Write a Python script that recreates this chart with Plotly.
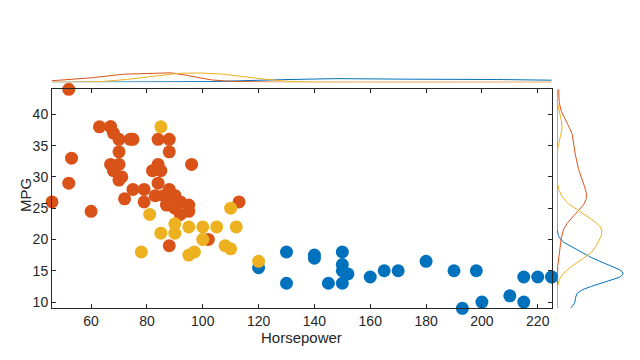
import numpy as np
import plotly.graph_objects as go

# Group 1 (blue)
hp_g1 = [130, 165, 150, 150, 140, 198, 220, 215, 225, 190, 170, 160, 150, 225,
         120, 130, 140, 145, 150, 152, 180, 193, 200, 210, 215]
mpg_g1 = [18, 15, 18, 16, 17, 15, 14, 14, 14, 15, 15, 14, 15, 14,
          15.5, 13, 17.5, 13, 13, 14.5, 16.5, 9, 10, 11, 10]

# Group 2 (orange)
hp_g2 = [52, 63, 67, 67, 68, 70, 74, 75, 70, 53, 67, 68, 70, 52, 70, 71, 75, 79,
         72, 46, 60, 84, 88, 88, 96, 84, 82, 85, 84, 79, 83, 88, 92, 87, 90, 92,
         95, 95, 86, 88, 90, 90, 113, 102, 88]
mpg_g2 = [44, 38, 38, 38, 37, 36, 36, 36, 34, 33, 32, 31, 32, 29, 29.5, 30, 28, 28,
          26.5, 26, 24.5, 36, 36, 34, 32, 32, 31, 31, 29, 26, 27, 28, 26, 25.5, 25, 24,
          25.5, 24.5, 27, 27, 27, 27, 26, 20, 19]

# Group 3 (yellow)
hp_g3 = [85, 81, 90, 90, 85, 95, 100, 105, 112, 110, 100, 78, 95, 97, 108, 110, 120]
mpg_g3 = [38, 24, 22.5, 21, 21, 22, 22, 22, 22, 25, 20, 18, 17.5, 18, 19, 18.5, 16.5]

x_ticks = [60, 80, 100, 120, 140, 160, 180, 200, 220]
y_ticks = [10, 15, 20, 25, 30, 35, 40]
x_title = "Horsepower"
y_title = "MPG"

colors = ["#0072BD", "#D95319", "#EDB120"]
groups = [(hp_g1, mpg_g1), (hp_g2, mpg_g2), (hp_g3, mpg_g3)]

all_hp = hp_g1 + hp_g2 + hp_g3
all_mpg = mpg_g1 + mpg_g2 + mpg_g3
xr = [min(all_hp), max(all_hp)]
yr = [min(all_mpg), max(all_mpg)]


def bandwidth(v):
    v = np.asarray(v, float)
    sig = np.median(np.abs(v - np.median(v))) / 0.6745
    return sig * (4.0 / (3.0 * len(v))) ** 0.2


def kde(v, grid):
    v = np.asarray(v, float)
    h = bandwidth(v)
    z = (grid[:, None] - v[None, :]) / h
    return np.exp(-0.5 * z ** 2).sum(axis=1) / (len(v) * h * np.sqrt(2 * np.pi))


W, H = 640, 360
xdom = [52 / W, 551.7 / W]
ydom = [1 - 308.3 / H, 1 - 89.3 / H]
rdom = [557 / W, 630 / W]
tdom = [1 - 82.3 / H, 1 - 9.3 / H]

gx = np.linspace(xr[0], xr[1], 200)
gy = np.linspace(yr[0], yr[1], 200)

fig = go.Figure()
for (hp, mpg), c in zip(groups, colors):
    fig.add_trace(go.Scatter(x=hp, y=mpg, mode="markers", cliponaxis=False,
                             marker=dict(color=c, size=13, line=dict(width=0)),
                             xaxis="x", yaxis="y", showlegend=False))

dens_y = [kde(mpg, gy) for hp, mpg in groups]
dens_x = [kde(hp, gx) for hp, mpg in groups]
R = max(d.max() for d in dens_y) * 73 / 66

for (hp, mpg), c, dx, dy in zip(groups, colors, dens_x, dens_y):
    fig.add_trace(go.Scatter(x=gx, y=dx, mode="lines", line=dict(color=c, width=1),
                             xaxis="x2", yaxis="y2", showlegend=False, hoverinfo="skip"))
    fig.add_trace(go.Scatter(x=dy, y=gy, mode="lines", line=dict(color=c, width=1),
                             xaxis="x3", yaxis="y3", showlegend=False, hoverinfo="skip"))

font = dict(family="Liberation Sans, Arial, sans-serif", size=14, color="#262626")
axis_common = dict(showline=True, linecolor="#262626", linewidth=1, mirror="ticks",
                   ticks="inside", ticklen=4, tickcolor="#262626", showgrid=False,
                   zeroline=False, tickfont=font, automargin=False)

title_font = dict(family="Liberation Sans, Arial, sans-serif", size=15, color="#262626")

fig.update_layout(
    width=W, height=H, margin=dict(l=0, r=0, t=0, b=0, autoexpand=False),
    paper_bgcolor="white", plot_bgcolor="white", font=font, showlegend=False,
    xaxis=dict(domain=xdom, range=xr, tickvals=x_ticks, anchor="y", **axis_common),
    yaxis=dict(domain=ydom, range=yr, tickvals=y_ticks, anchor="x", **axis_common),
    xaxis2=dict(domain=xdom, range=xr, anchor="y2", visible=False, automargin=False),
    yaxis2=dict(domain=tdom, range=[0, R], anchor="x2", visible=False, automargin=False),
    xaxis3=dict(domain=rdom, range=[0, R], anchor="y3", visible=False, automargin=False),
    yaxis3=dict(domain=ydom, range=yr, anchor="x3", visible=False, automargin=False),
    annotations=[
        dict(text=x_title, xref="paper", yref="paper", x=(xdom[0] + xdom[1]) / 2,
             y=1 - 337.5 / H, xanchor="center", yanchor="middle", showarrow=False,
             font=title_font),
        dict(text=y_title, xref="paper", yref="paper", x=25 / W, y=1 - 195 / H,
             xanchor="center", yanchor="middle", showarrow=False, textangle=-90,
             font=title_font),
    ],
)

fig.write_html("out.html", config={"displayModeBar": False},
               post_script="document.body.style.margin='0';document.body.style.overflow='hidden';")
